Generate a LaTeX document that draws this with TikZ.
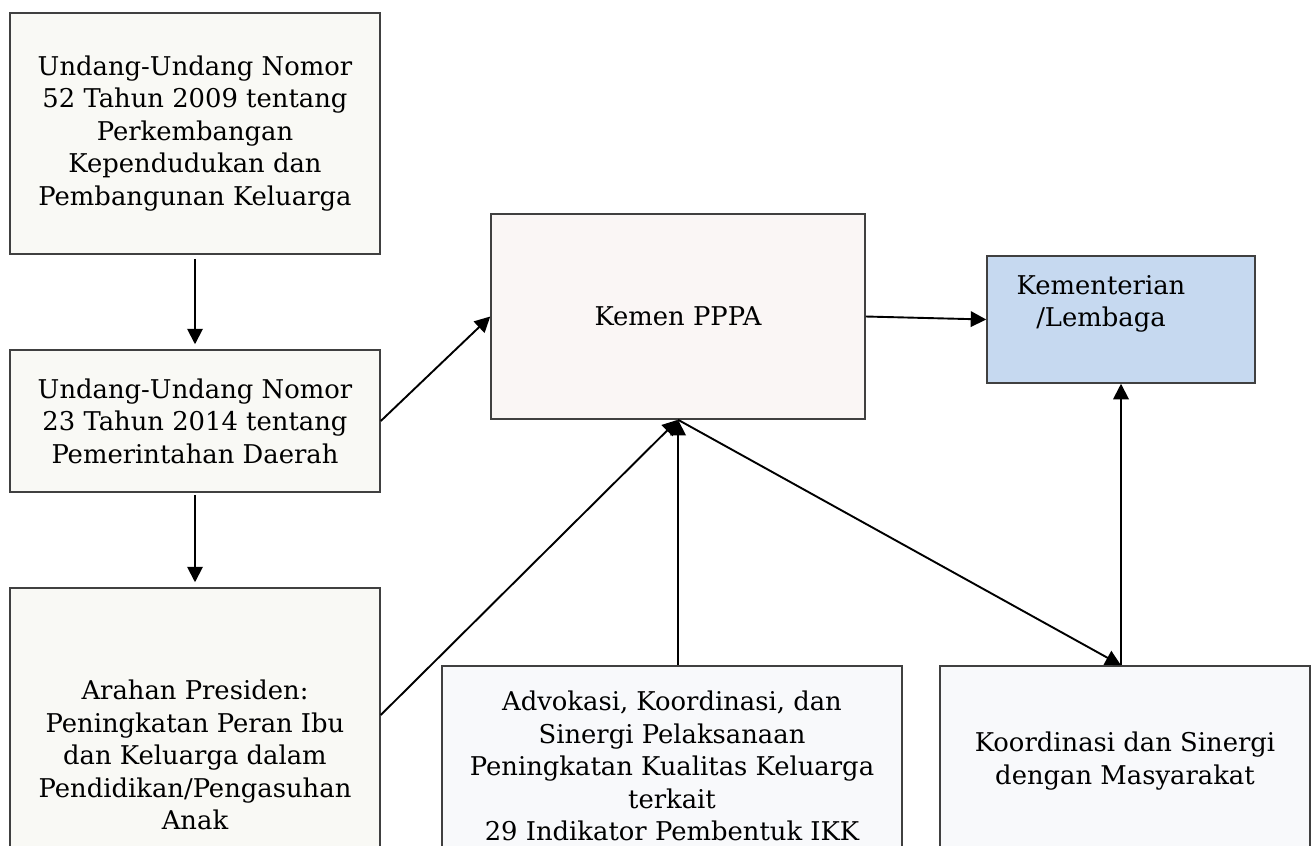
\documentclass[tikz,border=0pt]{standalone}
\usepackage{fontspec}
\setmainfont{DejaVu Serif}
\usetikzlibrary{arrows.meta,positioning}
\tikzset{
  >={Triangle[length=3.1mm,width=3.1mm]}
}
\definecolor{lawfill}{HTML}{F9F9F5}
\definecolor{kemenfill}{HTML}{FAF6F5}
\definecolor{taskfill}{HTML}{F8F9FB}
\definecolor{klfill}{HTML}{C6D9F0}

\begin{document}
\begin{tikzpicture}[x=0.2mm,y=-0.2mm,
  box/.style={rectangle,draw=black!75,line width=0.3mm,align=center,inner sep=0pt,
    font=\fontsize{14.7}{18.5}\selectfont},
  task/.style={box,fill=taskfill},
  flow/.style={->,line width=0.38mm}]
        \useasboundingbox (0,0) rectangle (1312,845);

        \node (UU52) at (195,133.5) [box,fill=lawfill,minimum width=74mm,minimum height=48.2mm]
          {Undang-Undang Nomor\\52 Tahun 2009 tentang\\Perkembangan\\Kependudukan dan\\Pembangunan Keluarga};
        \node (UU23) at (195,421) [box,fill=lawfill,minimum width=74mm,minimum height=28.4mm]
          {Undang-Undang Nomor\\23 Tahun 2014 tentang\\Pemerintahan Daerah};
        \node (arahan) at (195,755) [box,fill=lawfill,minimum width=74mm,minimum height=66.8mm]
          {Arahan Presiden:\\Peningkatan Peran Ibu\\dan Keluarga dalam\\Pendidikan/Pengasuhan\\Anak};
        \node (kemen) at (678,316.5) [box,fill=kemenfill,minimum width=74.8mm,minimum height=41mm]
          {Kemen PPPA};
        \node (KL) at (1121,319.5) [box,fill=klfill,minimum width=53.6mm,minimum height=25.4mm] {};
        \node (KLtext) at (1101,304) [align=center,font=\fontsize{14.7}{18.5}\selectfont]
          {Kementerian\\/Lembaga};
        \node (advokasi) at (672,766) [task,minimum width=92mm,minimum height=40mm]
          {Advokasi, Koordinasi, dan\\Sinergi Pelaksanaan\\Peningkatan Kualitas Keluarga\\terkait\\29 Indikator Pembentuk IKK};
        \node (koor) at (1125,761) [task,minimum width=74mm,minimum height=38mm]
          {Koordinasi dan Sinergi\\dengan Masyarakat};

        \draw[flow,shorten <=0.8mm,shorten >=1mm] (UU52) -- (UU23);
        \draw[flow,shorten <=0.4mm,shorten >=1mm] (UU23) -- (arahan);
        \draw[flow] (UU23.east) -- (kemen.west);
        \draw[flow] ([yshift=8mm]arahan.east) -- (kemen.south);
        \draw[flow] (advokasi.north -| kemen.south) -- (kemen.south);
        \draw[flow] (kemen.south) -- (koor.north -| KL.south);
        \draw[flow] (koor.north -| KL.south) -- (KL.south);
        \draw[flow] (kemen.east) -- (KL.west);
    \end{tikzpicture}
\end{document}
